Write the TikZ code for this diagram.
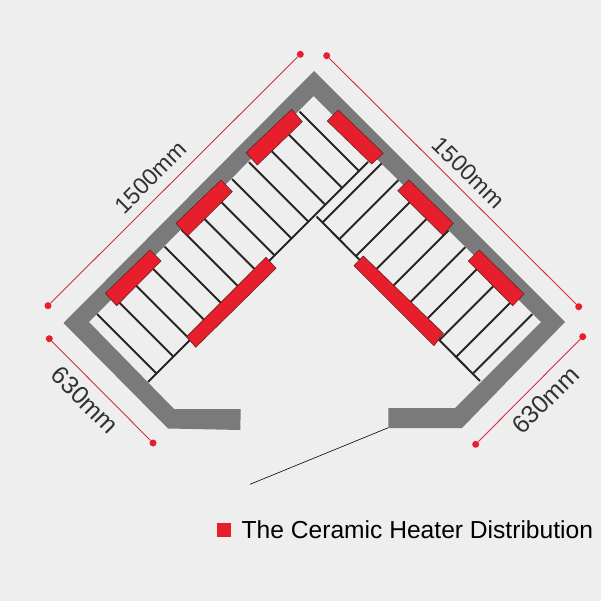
\documentclass[tikz,border=0pt]{standalone}
\usepackage{fontspec}
\setmainfont{Liberation Sans}
\definecolor{backdrop}{RGB}{238,238,238}
\definecolor{wall}{RGB}{122,122,122}
\definecolor{slat}{RGB}{42,36,36}
\definecolor{heater}{RGB}{231,30,44}
\definecolor{heateredge}{RGB}{110,30,34}
\definecolor{dimline}{RGB}{205,50,65}
\definecolor{dimtext}{RGB}{50,50,50}
\tikzstyle{wallshape}=[fill=wall, draw=none]
\tikzstyle{slatline}=[draw=slat, line width=2pt]
\tikzstyle{heaterbar}=[fill=heater, draw=heateredge, line width=0.6pt]
\tikzstyle{dimension}=[draw=dimline, line width=0.9pt]
\tikzstyle{dimlabel}=[text=dimtext, font=\fontsize{25}{25}\selectfont, inner sep=0pt]
\tikzstyle{longlabel}=[dimlabel, font=\fontsize{23.3}{25}\selectfont]
\tikzstyle{dimdot}=[circle, fill=heater, draw=none, minimum size=7pt, inner sep=0pt]

\begin{document}
\begin{tikzpicture}[x=1pt, y=-1pt]
    \useasboundingbox (0,0) rectangle (601,601);
    \fill[backdrop] (0,0) rectangle (601,601);

    % walls
    \fill[wallshape] (314,71) -- (565,322) -- (462,428) -- (388.3,428) -- (388.3,408)
        -- (455,408) -- (541,322) -- (313.5,96) -- (89,322) -- (174,409) -- (240.7,409)
        -- (240.3,430) -- (168,428.5) -- (63.5,323) -- cycle;

    % left bench
    \foreach \d in {0,...,12}
        \draw[slatline] ({(411-217+33.75*\d)/2}, {(411+217-33.75*\d)/2})
            -- ({(530-217+33.75*\d)/2}, {(530+217-33.75*\d)/2});
    \draw[slatline] (148,382) -- (368,162);

    % right bench
    \foreach \d in {0,...,9}
        \draw[slatline] ({(545+33.5*\d+100)/2}, {(545+33.5*\d-100)/2})
            -- ({(545+33.5*\d+218)/2}, {(545+33.5*\d-218)/2});
    \draw[slatline] (316.5,216.5) -- (480,381);

    % heaters
    \draw[heaterbar] (291.7,109.3) -- (302.3,121.7) -- (257.3,165) -- (246,152.7) -- cycle;
    \draw[heaterbar] (221,180) -- (232.3,191.7) -- (187.7,235.7) -- (176,223.3) -- cycle;
    \draw[heaterbar] (150,250) -- (161,261) -- (116.7,305.7) -- (105.3,293.3) -- cycle;
    \draw[heaterbar] (266,257.3) -- (276,268.3) -- (195.7,347.3) -- (186.7,336.7) -- cycle;
    \draw[heaterbar] (338.3,110) -- (383.3,153.3) -- (371.7,164) -- (327.3,121) -- cycle;
    \draw[heaterbar] (409,180) -- (453.3,223.3) -- (442.7,235) -- (397.7,190.7) -- cycle;
    \draw[heaterbar] (479.3,250) -- (524,294) -- (512.7,305.7) -- (468.3,261) -- cycle;
    \draw[heaterbar] (363.3,256) -- (443.3,333.3) -- (434,345.7) -- (354,265.7) -- cycle;

    % dimensions
    \node[dimdot] (topleftA) at (48,305.7) {};
    \node[dimdot] (topleftB) at (300.3,54.3) {};
    \node[dimdot] (toprightA) at (326.7,55.7) {};
    \node[dimdot] (toprightB) at (578.7,306.7) {};
    \node[dimdot] (lowleftA) at (49.3,338.7) {};
    \node[dimdot] (lowleftB) at (153,443) {};
    \node[dimdot] (lowrightA) at (475.7,444.3) {};
    \node[dimdot] (lowrightB) at (582.7,336.7) {};
    \draw[dimension] (topleftA) -- (topleftB);
    \draw[dimension] (toprightA) -- (toprightB);
    \draw[dimension] (lowleftA) -- (lowleftB);
    \draw[dimension] (lowrightA) -- (lowrightB);
    \node[longlabel, rotate=45] (lenleft) at (150.5,177.5) {1500mm};
    \node[longlabel, rotate=-45] (lenright) at (468.5,172.5) {1500mm};
    \node[dimlabel, rotate=-45] (depthleft) at (85,400) {630mm};
    \node[dimlabel, rotate=45] (depthright) at (545.5,400) {630mm};

    % legend
    \coordinate (doorend) at (388.3,427.7);
    \coordinate (leaderend) at (250,484.3);
    \draw[black, line width=0.6pt] (doorend) -- (leaderend);
    \node[fill=heater, minimum size=14pt, inner sep=0pt] (legendmark) at (223.7,530.3) {};
    \node[anchor=base west, inner sep=0pt, text=black, font=\fontsize{24.6}{25}\selectfont] (legendtext)
        at (241.5,538) {The Ceramic Heater Distribution};
\end{tikzpicture}
\end{document}
